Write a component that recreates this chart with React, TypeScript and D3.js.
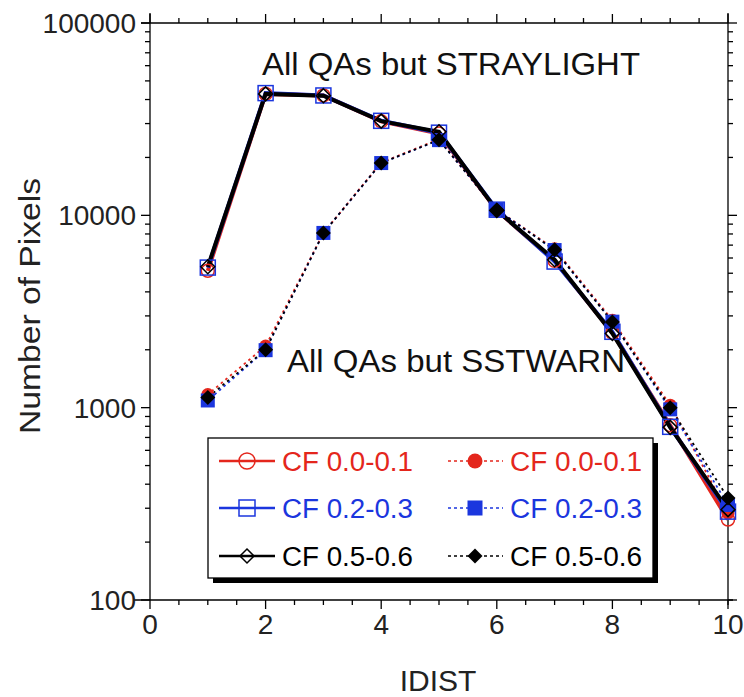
import React from "react";
import * as d3 from "d3";

const idist = [1, 2, 3, 4, 5, 6, 7, 8, 9, 10];
// All QAs but STRAYLIGHT (solid lines, open markers)
const strayCF01 = [5150, 42800, 42000, 30800, 26600, 10600, 5800, 2450, 810, 262];
const strayCF23 = [5350, 43200, 42000, 31000, 26900, 10700, 5750, 2480, 795, 288];
const strayCF56 = [5400, 42800, 41900, 30900, 27200, 10600, 5880, 2430, 790, 295];
// All QAs but SSTWARN (dotted lines, filled markers)
const warnCF01 = [1170, 2090, 8100, 18800, 24900, 10700, 6700, 2850, 1030, 283];
const warnCF23 = [1090, 1990, 8100, 18700, 24600, 10700, 6600, 2800, 980, 312];
const warnCF56 = [1130, 2000, 8090, 18700, 24700, 10650, 6620, 2790, 1000, 339];

const yTickValues = [100, 1000, 10000, 100000];
const xTickValues = [0, 2, 4, 6, 8, 10];
const legendLabels = ["CF 0.0-0.1", "CF 0.2-0.3", "CF 0.5-0.6"];
const annotationTop = "All QAs but STRAYLIGHT";
const annotationBottom = "All QAs but SSTWARN";
const xTitle = "IDIST";
const yTitle = "Number of Pixels";

const RED = "#e4261c";
const BLUE = "#1b36de";
const BLACK = "#000000";
const FONT = "'Liberation Sans', Arial, Helvetica, sans-serif";

type Shape = "circle" | "square" | "diamond";

function Marker({ shape, cx, cy, color, filled, size }: { shape: Shape; cx: number; cy: number; color: string; filled: boolean; size: number }) {
  const fill = filled ? color : "none";
  const sw = filled ? 0 : 1.5;
  if (shape === "circle") {
    return <circle cx={cx} cy={cy} r={size / 2} fill={fill} stroke={color} strokeWidth={sw} />;
  }
  if (shape === "square") {
    return <rect x={cx - size / 2} y={cy - size / 2} width={size} height={size} fill={fill} stroke={color} strokeWidth={sw} />;
  }
  const h = size / 2;
  return <path d={`M${cx},${cy - h}L${cx + h},${cy}L${cx},${cy + h}L${cx - h},${cy}Z`} fill={fill} stroke={color} strokeWidth={sw} />;
}

export default function App() {
  const W = 744;
  const H = 697;
  const x = d3.scaleLinear().domain([0, 10]).range([150, 728]);
  const y = d3.scaleLog().domain([100, 100000]).range([600, 23]);
  const x0 = x(0), x1 = x(10), yb = y(100), yt = y(100000);

  const minorY: number[] = [];
  [100, 1000, 10000].forEach((d) => {
    for (let k = 2; k <= 9; k++) minorY.push(d * k);
  });
  const minorX: number[] = d3.range(0.5, 10, 0.5).filter((v) => v % 2 !== 0);

  const line = d3
    .line<number>()
    .x((_, i) => x(idist[i]))
    .y((d) => y(d));

  const series = [
    { vals: strayCF01, color: RED, shape: "circle" as Shape, filled: false, dashed: false, size: 13 },
    { vals: warnCF01, color: RED, shape: "circle" as Shape, filled: true, dashed: true, size: 13 },
    { vals: strayCF23, color: BLUE, shape: "square" as Shape, filled: false, dashed: false, size: 15 },
    { vals: warnCF23, color: BLUE, shape: "square" as Shape, filled: true, dashed: true, size: 14 },
    { vals: strayCF56, color: BLACK, shape: "diamond" as Shape, filled: false, dashed: false, size: 14 },
    { vals: warnCF56, color: BLACK, shape: "diamond" as Shape, filled: true, dashed: true, size: 15 },
  ];

  const legendRows = [
    { label: legendLabels[0], color: RED, shape: "circle" as Shape, size: 16, fsize: 15 },
    { label: legendLabels[1], color: BLUE, shape: "square" as Shape, size: 16, fsize: 15 },
    { label: legendLabels[2], color: BLACK, shape: "diamond" as Shape, size: 14, fsize: 15 },
  ];
  const legX = 208, legY = 438, legW = 445, legH = 140;
  const rowY = [461, 508, 556];

  return (
    <svg width={W} height={H} style={{ position: "absolute", left: 0, top: 0, background: "#fff" }} fontFamily={FONT}>
      <rect x={0} y={0} width={W} height={H} fill="#fff" />
      {/* frame */}
      <g stroke="#000" strokeWidth={1.3} fill="none">
        <line x1={x0} y1={yt - 10} x2={x0} y2={yb} />
        <line x1={x1} y1={yt - 10} x2={x1} y2={yb + 5} />
        <line x1={x0 - 9} y1={yt} x2={x1} y2={yt} />
        <line x1={x0 - 17} y1={yb} x2={x1 + 5} y2={yb} />
        {yTickValues.map((v) => (
          <g key={"ym" + v}>
            <line x1={x0 - 9} x2={x0} y1={y(v)} y2={y(v)} />
            <line x1={x1} x2={x1 + 9} y1={y(v)} y2={y(v)} />
          </g>
        ))}
        {minorY.map((v) => (
          <g key={"yn" + v}>
            <line x1={x0 - 5} x2={x0} y1={y(v)} y2={y(v)} />
            <line x1={x1} x2={x1 + 5} y1={y(v)} y2={y(v)} />
          </g>
        ))}
        {xTickValues.map((v) => (
          <g key={"xm" + v}>
            <line x1={x(v)} x2={x(v)} y1={yb} y2={yb + 9} />
            <line x1={x(v)} x2={x(v)} y1={yt} y2={yt - 9} />
          </g>
        ))}
        {minorX.map((v) => (
          <g key={"xn" + v}>
            <line x1={x(v)} x2={x(v)} y1={yb} y2={yb + 5} />
            <line x1={x(v)} x2={x(v)} y1={yt} y2={yt - 5} />
          </g>
        ))}
      </g>
      {/* tick labels */}
      {yTickValues.map((v) => (
        <text key={"yl" + v} x={136} y={y(v) + 10} textAnchor="end" fontSize={28} fill="#222">
          {String(v)}
        </text>
      ))}
      {xTickValues.map((v) => (
        <text key={"xl" + v} x={x(v)} y={634} textAnchor="middle" fontSize={28} fill="#222">
          {String(v)}
        </text>
      ))}
      {/* axis titles */}
      <text x={438} y={691} textAnchor="middle" fontSize={30} fill="#222">
        {xTitle}
      </text>
      <text transform={`translate(40,306) rotate(-90)`} textAnchor="middle" fontSize={30} fill="#222" textLength={256} lengthAdjust="spacingAndGlyphs">
        {yTitle}
      </text>
      {/* annotations */}
      <text x={262} y={75} fontSize={31} fill="#111" textLength={378} lengthAdjust="spacingAndGlyphs">
        {annotationTop}
      </text>
      <text x={287} y={372} fontSize={31} fill="#111" textLength={338} lengthAdjust="spacingAndGlyphs">
        {annotationBottom}
      </text>
      {/* data */}
      {series.map((s, i) => (
        <path
          key={"l" + i}
          d={line(s.vals) || ""}
          fill="none"
          stroke={s.color}
          strokeWidth={s.dashed ? 1.8 : 4}
          strokeDasharray={s.dashed ? "2.5,3.5" : undefined}
          strokeDashoffset={s.dashed ? i : 0}
        />
      ))}
      {series.map((s, i) => (
        <g key={"m" + i}>
          {s.vals.map((v, j) => (
            <Marker key={j} shape={s.shape} cx={x(idist[j])} cy={y(v)} color={s.color} filled={s.filled} size={s.size} />
          ))}
        </g>
      ))}
      {/* legend */}
      <rect x={legX + 5} y={legY + 5} width={legW} height={legH} fill="#000" />
      <rect x={legX} y={legY} width={legW} height={legH} fill="#fff" stroke="#000" strokeWidth={1.3} />
      {legendRows.map((r, i) => (
        <g key={"lg" + i}>
          <line x1={219} x2={275} y1={rowY[i]} y2={rowY[i]} stroke={r.color} strokeWidth={2.5} />
          <Marker shape={r.shape} cx={247} cy={rowY[i]} color={r.color} filled={false} size={r.size} />
          <text x={282} y={rowY[i] + 10} fontSize={27} fill={r.color} textLength={131} lengthAdjust="spacingAndGlyphs">
            {r.label}
          </text>
          <line x1={448} x2={503} y1={rowY[i]} y2={rowY[i]} stroke={r.color} strokeWidth={1.3} strokeDasharray="3,3" />
          <Marker shape={r.shape} cx={475} cy={rowY[i]} color={r.color} filled={true} size={r.fsize} />
          <text x={510} y={rowY[i] + 10} fontSize={27} fill={r.color} textLength={132} lengthAdjust="spacingAndGlyphs">
            {r.label}
          </text>
        </g>
      ))}
    </svg>
  );
}
